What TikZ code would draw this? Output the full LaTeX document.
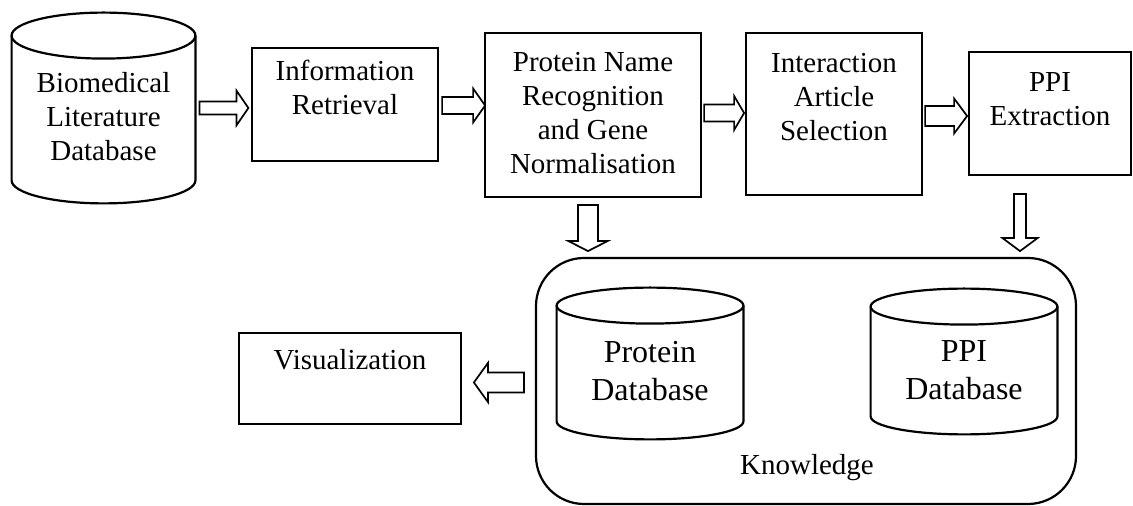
\documentclass[tikz,border=0pt]{standalone}
\usepackage{fontspec}
\setmainfont{Liberation Serif}
\usetikzlibrary{calc,fit}

% hollow block arrow: start, angle, length, half shaft width, half head width, head length
\newcommand\blockarrow[6]{%
  \draw[arrowline, shift={(#1)}, rotate=#2]
    (0,-#4) -- ++({#3-#6},0) -- ++(0,{#4-#5}) -- ++(#6,#5)
    -- ++(-#6,#5) -- ++(0,{#4-#5}) -- ++({#6-#3},0) -- cycle;}

% database drum drawn inside the bounds of a named node
\newcommand\drawdrum[2]{%
  \draw[outline] let \p1=(#1.north west), \p2=(#1.north east) in
    ([yshift=-#2]#1.north west) -- ([yshift=#2]#1.south west)
    arc[start angle=180, end angle=360, x radius={(\x2-\x1)/2}, y radius=#2]
    -- ([yshift=-#2]#1.north east);
  \draw[outline] let \p1=(#1.north west), \p2=(#1.north east) in
    ([yshift=-#2]#1.north) ellipse[x radius={(\x2-\x1)/2}, y radius=#2];}

\tikzset{
  box/.style={draw, line width=1.1pt, rectangle, inner sep=0pt},
  holder/.style={rectangle, inner sep=0pt},
  txt/.style={align=center, inner sep=0pt, font=\fontsize{14.5pt}{17pt}\selectfont},
  bigtxt/.style={align=center, inner sep=0pt, font=\fontsize{16pt}{19pt}\selectfont},
  outline/.style={line width=1.1pt},
  arrowline/.style={draw, line width=0.85pt, line join=miter},
}

\begin{document}
\begin{tikzpicture}[x=0.5pt, y=-0.5pt]
\useasboundingbox (0,0) rectangle (1133,506);

% processing pipeline
\node[holder, fit={(12,13) (195,203)}] (bio) {};
\drawdrum{bio}{11.5pt}
\node[txt] (bioT) at (103.5,117) {Biomedical\\Literature\\Database};

\node[box, fit={(252,48) (438,161)}] (ir) {};
\node[txt] (irT) at (345,87) {Information\\Retrieval};

\node[box, fit={(485,33) (701,197)}] (pnr) {};
\node[txt] (pnrT) at (593,113) {Protein Name\\Recognition\\and Gene\\Normalisation};

\node[box, fit={(746,33) (922,195)}] (ias) {};
\node[txt] (iasT) at (834,97) {Interaction\\Article\\Selection};

\node[box, fit={(969,52) (1131,175)}] (ppi) {};
\node[txt] (ppiT) at (1050,99.5) {PPI\\Extraction};

% knowledge store
\node[box, rounded corners=24pt, fit={(536,258) (1076,504)}] (kb) {};
\node[txt] (kbT) at (807,468) {Knowledge};

\node[holder, fit={(557,288) (743,439)}] (protdb) {};
\drawdrum{protdb}{9pt}
\node[bigtxt] (protdbT) at (650,371) {Protein\\Database};

\node[holder, fit={(871,289) (1057,434)}] (ppidb) {};
\drawdrum{ppidb}{9pt}
\node[bigtxt] (ppidbT) at (964,370) {PPI\\Database};

\node[box, fit={(239,333) (461,424)}] (vis) {};
\node[txt] (visT) at (350,360) {Visualization};

% flow arrows
\coordinate (a1) at ($(bio.east)+(4,0)$);
\coordinate (a2) at ($(ir.east)+(3,1)$);
\coordinate (a3) at ($(pnr.east)+(2,-2)$);
\coordinate (a4) at ($(ias.east)+(2,2)$);
\coordinate (a5) at ($(pnr.south)+(-5,7)$);
\coordinate (a6) at ($(ppi.south)+(-30,18)$);
\coordinate (a7) at ($(kb.west)+(-11,1.5)$);

\blockarrow{a1}{0}{49}{6.5}{17.5}{12}
\blockarrow{a2}{0}{43}{8.5}{17}{12}
\blockarrow{a3}{0}{40}{8.5}{17}{10}
\blockarrow{a4}{0}{42}{10}{17.5}{13}
\blockarrow{a5}{-90}{46}{10}{19.5}{10}
\blockarrow{a6}{-90}{57}{6}{17.5}{13}
\blockarrow{a7}{180}{50}{10}{19.5}{14}
\end{tikzpicture}
\end{document}
